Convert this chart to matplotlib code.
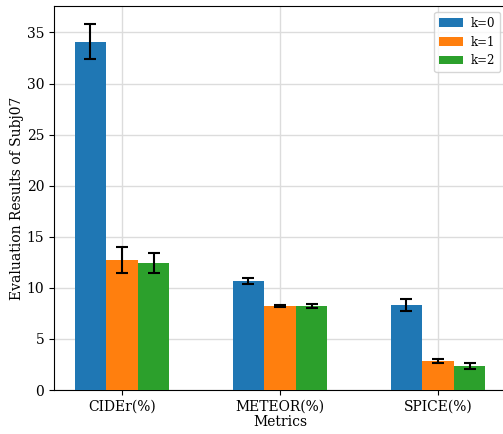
import numpy as np
import matplotlib
matplotlib.use("Agg")
import matplotlib.pyplot as plt

plt.rcParams['font.family'] = 'DejaVu Serif'

metrics = ['CIDEr(%)', 'METEOR(%)', 'SPICE(%)']
labels = ['k=0', 'k=1', 'k=2']
means = {
    'k=0': [34.1, 10.7, 8.33],
    'k=1': [12.75, 8.24, 2.84],
    'k=2': [12.45, 8.24, 2.35],
}
errs = {
    'k=0': [1.7, 0.3, 0.55],
    'k=1': [1.25, 0.12, 0.15],
    'k=2': [1.0, 0.17, 0.27],
}

fig = plt.figure(figsize=(5.03, 4.34), dpi=100)
ax = fig.add_axes([54 / 503, 44 / 434, 452 / 503, 384 / 434])

x = np.arange(len(metrics))
width = 0.2
for i, k in enumerate(labels):
    ax.bar(x + (i - 1) * width, means[k], width, yerr=errs[k], capsize=4,
           error_kw={'elinewidth': 1.5, 'capthick': 1.5}, label=k, zorder=3)

ax.set_xticks(x)
ax.set_xticklabels(metrics, fontsize=10)
ax.tick_params(axis='y', labelsize=10)
ax.set_xlabel('Metrics', fontsize=10, labelpad=1)
ax.set_ylabel('Evaluation Results of Subj07', fontsize=10, labelpad=2)
ax.grid(True, color='#dcdcdc', linewidth=1.0, zorder=0)
ax.legend(loc='upper right', fontsize=8.5, handletextpad=0.7)

fig.savefig('out.png', dpi=100)
